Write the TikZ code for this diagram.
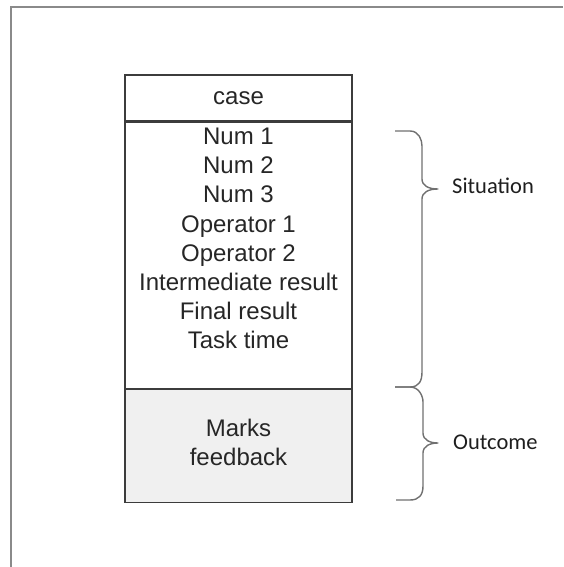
\documentclass[tikz,border=0pt]{standalone}
\usepackage{fontspec}
\setmainfont{Liberation Sans}
\newfontfamily\labelfont{Carlito}
\usetikzlibrary{positioning}
\definecolor{cFrame}{HTML}{8A8A8A}
\definecolor{cBox}{HTML}{3C3C3C}
\definecolor{cText}{HTML}{262626}
\definecolor{cOutcome}{HTML}{F0F0F0}
\definecolor{cBrace}{HTML}{707070}
\tikzset{
  field/.style={draw=cBox,line width=1.3pt,minimum width=227pt,inner sep=0pt,
                text=cText,align=center,font=\fontsize{24}{29.2}\selectfont},
  bracket/.style={draw=cBrace,line width=1.4pt,line join=round},
  bracelabel/.style={anchor=west,inner sep=0pt,text=cText!80!black,
                     font=\labelfont\fontsize{22.5}{26}\selectfont}
}

\begin{document}
\begin{tikzpicture}[x=1pt,y=-1pt]
        \useasboundingbox (0,0) rectangle (563,567);
        % page frame (only left and top edges show)
        \draw[cFrame,line width=2pt] (11,567) -- (11,7) -- (563,7);

        % the case record
        \node[field,minimum height=46pt] (head) at (238.5,98) {case};
        \node[field,minimum height=266pt,below=0pt of head] (situation) {};
        \node[field,fill=cOutcome,minimum height=113pt,below=0pt of situation,
              text depth=8pt] (outcome)
          {Marks\\feedback};
        \node[text=cText,align=center,inner sep=0pt,
              font=\fontsize{24}{29.2}\selectfont] (fields) at (238.5,238.5)
          {Num 1\\Num 2\\Num 3\\Operator 1\\Operator 2\\Intermediate result\\Final result\\Task time};

        % braces
        \coordinate (sitTop) at (395,131);
        \coordinate (sitTip) at (438,189);
        \coordinate (split)  at (395,387);
        \coordinate (outTip) at (438,443);
        \coordinate (outBot) at (396,500);
        \draw[bracket] (sitTop) -- ++(15,0) .. controls +(9,0) and +(0,-6) .. (422,146)
          -- (422,179) .. controls (422,186) and (429,189) .. (sitTip)
          .. controls (429,189) and (422,192) .. (422,199)
          -- (422,372) .. controls (422,381) and (419,387) .. (410,387) -- (split);
        \draw[bracket] (split) -- ++(15,0) .. controls +(9,0) and +(0,-6) .. (423,402)
          -- (423,433) .. controls (423,440) and (430,443) .. (outTip)
          .. controls (430,443) and (423,446) .. (423,453)
          -- (423,486) .. controls (423,495) and (419,500) .. (410,500) -- (outBot);

        \node[bracelabel] (sitLabel) at (452,186) {Situation};
        \node[bracelabel] (outLabel) at (453,442) {Outcome};
      \end{tikzpicture}
\end{document}
